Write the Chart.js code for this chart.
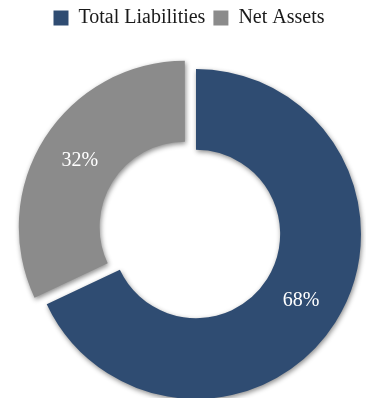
<!DOCTYPE html>
<html>
<head>
<meta charset="utf-8">
<script src="https://cdn.jsdelivr.net/npm/chart.js@4.4.0/dist/chart.umd.min.js"></script>
<style>
  html, body { margin: 0; padding: 0; background: #ffffff; }
  #wrap { position: relative; width: 366px; height: 398px; }
</style>
</head>
<body>
<div id="wrap"><canvas id="c"></canvas></div>
<script>
const categories = ['Total Liabilities', 'Net Assets'];
const values = [68, 32];
const sliceColors = ['#2f4c72', '#8b8b8b'];
const sliceOffsets = [0, 52];

const legendSpacePlugin = {
  id: 'legendSpacePlugin',
  beforeLayout(chart) {
    const lg = chart.legend;
    if (lg && !lg._extraSpace) {
      const f = lg.fit;
      lg.fit = function () { f.call(this); this.height += 32; };
      lg._extraSpace = true;
    }
  },
  afterLayout(chart) {
    const lg = chart.legend;
    if (lg) { lg.left -= 7; lg.right -= 7; }
  }
};

const shadowPlugin = {
  id: 'shadowPlugin',
  beforeDatasetsDraw(chart) {
    const ctx = chart.ctx;
    ctx.save();
    ctx.shadowColor = 'rgba(0,0,0,0.45)';
    ctx.shadowBlur = 5;
    ctx.shadowOffsetX = 1;
    ctx.shadowOffsetY = 2;
  },
  afterDatasetsDraw(chart) {
    chart.ctx.restore();
  }
};

const labelPlugin = {
  id: 'labelPlugin',
  afterDatasetsDraw(chart) {
    const ctx = chart.ctx;
    const meta = chart.getDatasetMeta(0);
    const data = chart.data.datasets[0].data;
    const total = data.reduce((a, b) => a + b, 0);
    ctx.save();
    ctx.fillStyle = '#ffffff';
    ctx.font = '20px "Liberation Serif", "DejaVu Serif", serif';
    ctx.textAlign = 'center';
    ctx.textBaseline = 'middle';
    meta.data.forEach((arc, i) => {
      const p = arc.getProps(['x', 'y', 'startAngle', 'endAngle', 'innerRadius', 'outerRadius'], true);
      const mid = (p.startAngle + p.endAngle) / 2;
      const off = (arc.options.offset || 0) / 4;
      const r = (p.innerRadius + p.outerRadius) / 2 + off;
      const tx = p.x + Math.cos(mid) * r;
      const ty = p.y + Math.sin(mid) * r;
      ctx.fillText(Math.round(data[i] / total * 100) + '%', tx, ty);
    });
    ctx.restore();
  }
};

new Chart(document.getElementById('c'), {
  type: 'doughnut',
  data: {
    labels: categories,
    datasets: [{
      data: values,
      backgroundColor: sliceColors,
      borderWidth: 0,
      offset: sliceOffsets,
      hoverOffset: 0
    }]
  },
  options: {
    responsive: true,
    maintainAspectRatio: false,
    animation: false,
    cutout: '51%',
    radius: 165,
    layout: { padding: { left: 26, right: 0, top: 0, bottom: 0 } },
    plugins: {
      legend: {
        position: 'top',
        labels: {
          boxWidth: 15,
          boxHeight: 15,
          padding: 8,
          color: '#1a1a1a',
          font: { family: '"Liberation Serif", "DejaVu Serif", serif', size: 20 }
        }
      },
      tooltip: { enabled: false }
    }
  },
  plugins: [legendSpacePlugin, shadowPlugin, labelPlugin]
});
</script>
</body>
</html>
